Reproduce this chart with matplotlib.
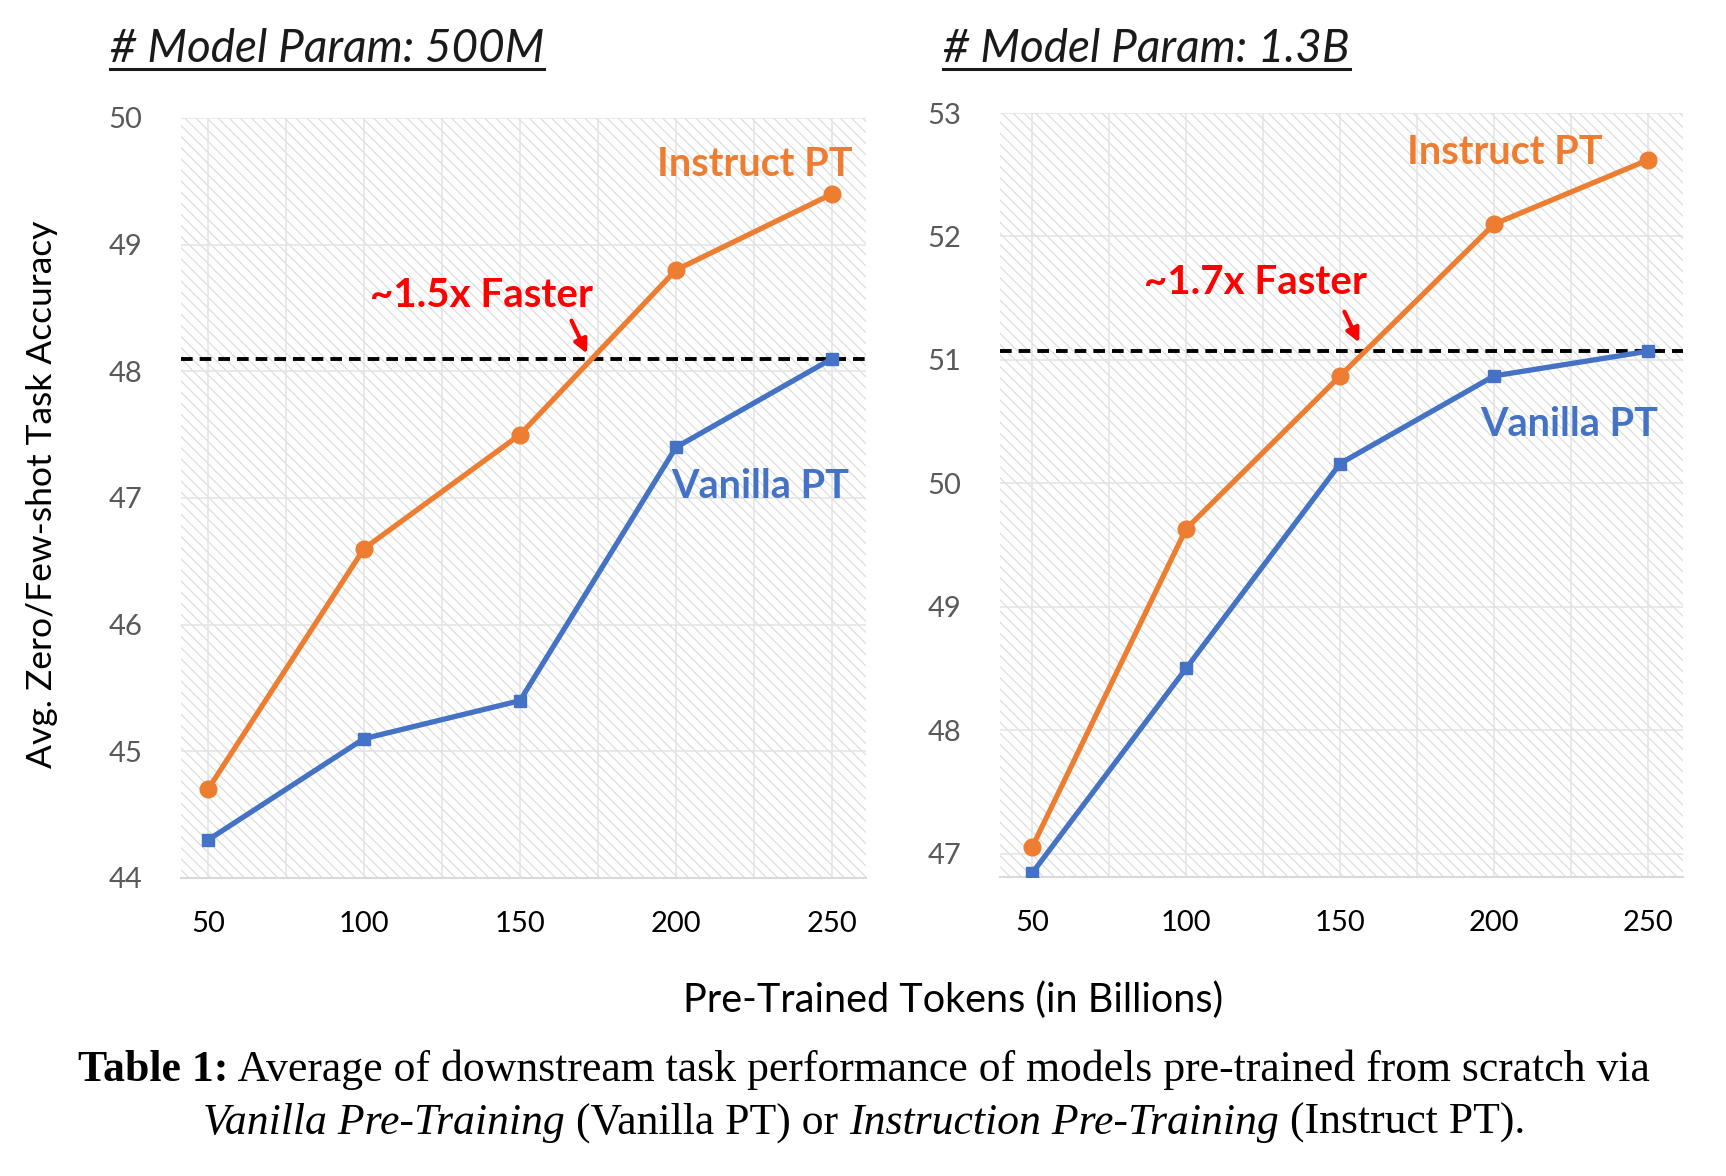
import matplotlib
matplotlib.use("Agg")
import matplotlib.pyplot as plt
from matplotlib.patches import Rectangle
from matplotlib.lines import Line2D

plt.rcParams['font.family'] = ['Lato', 'DejaVu Sans']
plt.rcParams['hatch.linewidth'] = 0.8

# data
tokens = [50, 100, 150, 200, 250]
instruct_500m = [44.7, 46.6, 47.5, 48.8, 49.4]
vanilla_500m = [44.3, 45.1, 45.4, 47.4, 48.1]
instruct_13b = [47.05, 49.63, 50.87, 52.1, 52.62]
vanilla_13b = [46.84, 48.5, 50.16, 50.87, 51.07]
target_500m = 48.1
target_13b = 51.07
titles = ['# Model Param: 500M', '# Model Param: 1.3B']
speedups = ['~1.5x Faster', '~1.7x Faster']

ORANGE = '#ED7D31'
BLUE = '#4472C4'

W, H = 1726, 1176
fig = plt.figure(figsize=(W / 100, H / 100), dpi=100)


def fax(x0, y0, x1, y1):
    # pixel box -> figure fraction axes
    return fig.add_axes([x0 / W, 1 - y1 / H, (x1 - x0) / W, (y1 - y0) / H])


ax1 = fax(181, 118, 866, 878)
ax2 = fax(1000, 113, 1683, 877)

panels = [
    (ax1, instruct_500m, vanilla_500m, target_500m, (41.35, 260.9), (44, 50), range(44, 51)),
    (ax2, instruct_13b, vanilla_13b, target_13b, (39.6, 261.3), (46.81, 53), range(47, 54)),
]

for ax, ins, van, tgt, xl, yl, yt in panels:
    ax.add_patch(Rectangle((0, 0), 1, 1, transform=ax.transAxes, facecolor='white',
                           edgecolor='#dadada', hatch='\\\\\\', lw=0, zorder=0))
    ax.set_axisbelow(True)
    ax.set_xlim(*xl)
    ax.set_ylim(*yl)
    ax.set_xticks(tokens)
    ax.set_xticks([75, 125, 175, 225], minor=True)
    ax.set_yticks(list(yt))
    ax.grid(True, which='both', color='#e3e3e3', lw=1.1)
    for s in ['top', 'left', 'right']:
        ax.spines[s].set_visible(False)
    ax.spines['bottom'].set_color('#d9d9d9')
    ax.spines['bottom'].set_linewidth(1.5)
    ax.tick_params(axis='both', which='both', length=0)
    ax.tick_params(axis='x', labelsize=21, colors='black', pad=24)
    ax.tick_params(axis='y', labelsize=21, labelcolor='#595959', pad=28)
    ax.axhline(tgt, color='black', lw=2.8, ls=(0, (3.0, 1.8)), zorder=3)
    ax.plot(tokens, ins, color=ORANGE, lw=3.8, marker='o', ms=12, zorder=4)
    ax.plot(tokens, van, color=BLUE, lw=3.8, marker='s', ms=9, zorder=4)

# series labels and speedup notes
lab = dict(fontsize=28.5, fontweight='bold', ha='center', va='center')
note = dict(fontsize=29, fontweight='bold', ha='center', va='center', color='red')
arrow = dict(arrowstyle='-|>', color='red', lw=3, mutation_scale=20, shrinkA=0, shrinkB=0)
ax1.text(225.3, 49.63, 'Instruct PT', color=ORANGE, **lab)
ax1.text(227, 47.09, 'Vanilla PT', color=BLUE, **lab)
ax1.text(137.8, 48.6, speedups[0], **note)
ax1.annotate('', xy=(171.5, 48.14), xytext=(166.5, 48.4), arrowprops=arrow)

ax2.text(203.6, 52.68, 'Instruct PT', color=ORANGE, **lab)
ax2.text(224.3, 50.48, 'Vanilla PT', color=BLUE, **lab)
ax2.text(122.4, 51.63, speedups[1], **note)
ax2.annotate('', xy=(156.2, 51.14), xytext=(151.4, 51.39), arrowprops=arrow)

# panel titles, underlined
renderer = fig.canvas.get_renderer()
for x0, title in [(110, titles[0]), (943, titles[1])]:
    t = fig.text(x0 / W, 1 - 62 / H, title, fontsize=33, style='italic', color='#1a1a1a',
                 ha='left', va='baseline')
    bb = t.get_window_extent(renderer)
    fig.add_artist(Line2D([bb.x0 / W, bb.x1 / W], [1 - 69 / H, 1 - 69 / H],
                          color='#1a1a1a', lw=2.2, transform=fig.transFigure))

fig.text(42 / W, 1 - 494 / H, 'Avg. Zero/Few-shot Task Accuracy', rotation=90,
         fontsize=25.5, ha='center', va='center')
fig.text(953 / W, 1 - 1000 / H, 'Pre-Trained Tokens (in Billions)', fontsize=28.5,
         ha='center', va='center')


def runs_line(runs, cx, cy, size):
    # place mixed style text pieces centred on cx
    arts = []
    for txt, weight, style in runs:
        a = fig.text(0, cy / H, txt, fontsize=size, fontweight=weight, style=style,
                     family=['Liberation Serif', 'DejaVu Serif'], ha='left', va='baseline')
        arts.append(a)
    widths = [a.get_window_extent(renderer).width for a in arts]
    x = cx - sum(widths) / 2
    for a, w in zip(arts, widths):
        a.set_x(x / W)
        x += w


runs_line([('Table 1:', 'bold', 'normal'),
           (' Average of downstream task performance of models pre-trained from scratch via', 'normal', 'normal')],
          864, H - 1081, 31.5)
runs_line([('Vanilla Pre-Training', 'normal', 'italic'),
           (' (Vanilla PT) or ', 'normal', 'normal'),
           ('Instruction Pre-Training', 'normal', 'italic'),
           (' (Instruct PT).', 'normal', 'normal')],
          864, H - 1134, 31.5)

fig.savefig('out.png', dpi=100)
